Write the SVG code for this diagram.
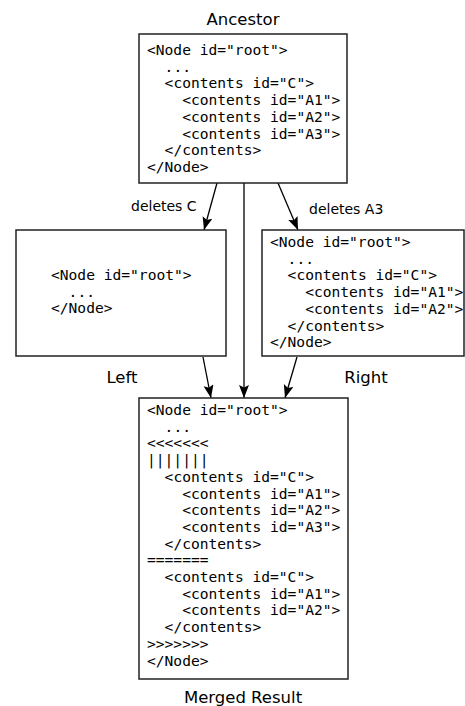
<svg xmlns="http://www.w3.org/2000/svg" width="465" height="706" viewBox="0 0 465 706">
<style>
.box{fill:#fff;stroke:#222;stroke-width:1.5}
.code{font-family:"DejaVu Sans Mono",monospace;font-size:14.6px;fill:#000}
.lbl{font-family:"DejaVu Sans",sans-serif;font-size:16.5px;fill:#000;text-anchor:middle}
.edge{font-family:"DejaVu Sans",sans-serif;font-size:14px;fill:#000}
.con{stroke:#000;stroke-width:1.3;fill:none;marker-end:url(#ah)}
</style>
<defs>
<marker id="ah" markerUnits="userSpaceOnUse" markerWidth="14" markerHeight="11" refX="13" refY="5" orient="auto">
<path d="M0,0 L13,5 L0,10 L2.5,5 z" fill="#000"/>
</marker>
</defs>
<rect width="465" height="706" fill="#fff"/>
<g id="connectors">
<line class="con" x1="217" y1="183" x2="204" y2="230"/>
<line class="con" x1="244" y1="183" x2="244" y2="398"/>
<line class="con" x1="278" y1="183" x2="298" y2="230"/>
<line class="con" x1="203" y1="357" x2="211" y2="398"/>
<line class="con" x1="297" y1="357" x2="285" y2="398"/>
<text class="edge" x="131" y="211">deletes C</text>
<text class="edge" x="309" y="214">deletes A3</text>
</g>
<g id="ancestor">
<rect class="box" x="139" y="34" width="208" height="149"/>
<text class="lbl" x="243" y="25">Ancestor</text>
<text class="code" x="147" y="55">&lt;Node id="root"&gt;</text>
<text class="code" x="164.6" y="71.7">...</text>
<text class="code" x="164.6" y="88.4">&lt;contents id="C"&gt;</text>
<text class="code" x="182.2" y="105.1">&lt;contents id="A1"&gt;</text>
<text class="code" x="182.2" y="121.8">&lt;contents id="A2"&gt;</text>
<text class="code" x="182.2" y="138.5">&lt;contents id="A3"&gt;</text>
<text class="code" x="164.6" y="155.2">&lt;/contents&gt;</text>
<text class="code" x="147" y="171.9">&lt;/Node&gt;</text>
</g>
<g id="left">
<rect class="box" x="16" y="230" width="210" height="126"/>
<text class="lbl" x="122" y="383">Left</text>
<text class="code" x="51" y="280">&lt;Node id="root"&gt;</text>
<text class="code" x="68.6" y="296.7">...</text>
<text class="code" x="51" y="313.4">&lt;/Node&gt;</text>
</g>
<g id="right">
<rect class="box" x="262" y="230" width="202" height="126"/>
<text class="lbl" x="366" y="383">Right</text>
<text class="code" x="270" y="247">&lt;Node id="root"&gt;</text>
<text class="code" x="287.6" y="263.7">...</text>
<text class="code" x="287.6" y="280.4">&lt;contents id="C"&gt;</text>
<text class="code" x="305.2" y="297.1">&lt;contents id="A1"&gt;</text>
<text class="code" x="305.2" y="313.8">&lt;contents id="A2"&gt;</text>
<text class="code" x="287.6" y="330.5">&lt;/contents&gt;</text>
<text class="code" x="270" y="347.2">&lt;/Node&gt;</text>
</g>
<g id="merged">
<rect class="box" x="139" y="398" width="209" height="281"/>
<text class="lbl" x="243" y="703">Merged Result</text>
<text class="code" x="147" y="415">&lt;Node id="root"&gt;</text>
<text class="code" x="164.6" y="431.7">...</text>
<text class="code" x="147" y="448.4">&lt;&lt;&lt;&lt;&lt;&lt;&lt;</text>
<text class="code" x="147" y="465.1">|||||||</text>
<text class="code" x="164.6" y="481.8">&lt;contents id="C"&gt;</text>
<text class="code" x="182.2" y="498.5">&lt;contents id="A1"&gt;</text>
<text class="code" x="182.2" y="515.2">&lt;contents id="A2"&gt;</text>
<text class="code" x="182.2" y="531.9">&lt;contents id="A3"&gt;</text>
<text class="code" x="164.6" y="548.6">&lt;/contents&gt;</text>
<text class="code" x="147" y="565.3">=======</text>
<text class="code" x="164.6" y="582">&lt;contents id="C"&gt;</text>
<text class="code" x="182.2" y="598.7">&lt;contents id="A1"&gt;</text>
<text class="code" x="182.2" y="615.4">&lt;contents id="A2"&gt;</text>
<text class="code" x="164.6" y="632.1">&lt;/contents&gt;</text>
<text class="code" x="147" y="648.8">&gt;&gt;&gt;&gt;&gt;&gt;&gt;</text>
<text class="code" x="147" y="665.5">&lt;/Node&gt;</text>
</g>
</svg>
